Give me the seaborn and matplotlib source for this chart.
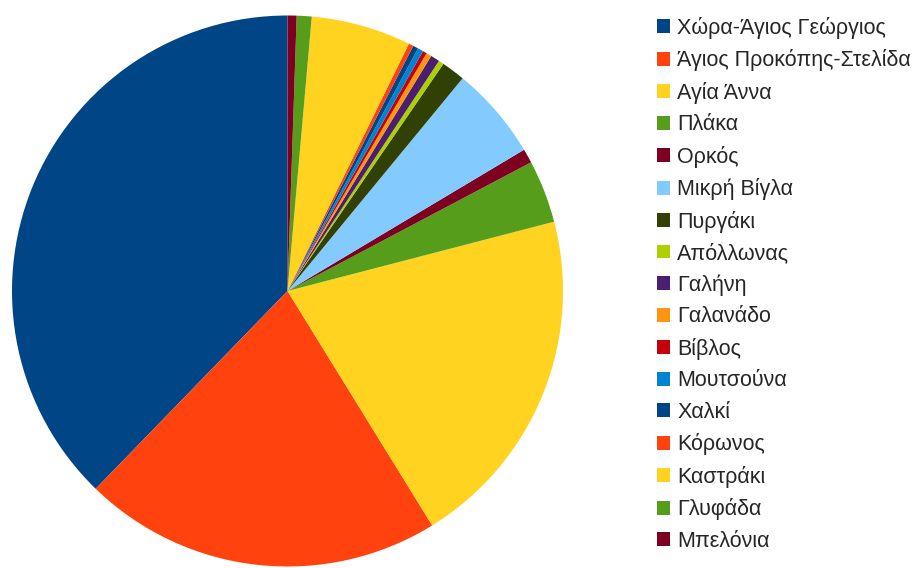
import matplotlib
matplotlib.use("Agg")
import matplotlib.pyplot as plt
import seaborn as sns

# villages and their share
villages = [
    "Χώρα-Άγιος Γεώργιος", "Άγιος Προκόπης-Στελίδα", "Αγία Άννα", "Πλάκα",
    "Ορκός", "Μικρή Βίγλα", "Πυργάκι", "Απόλλωνας", "Γαλήνη", "Γαλανάδο",
    "Βίβλος", "Μουτσούνα", "Χαλκί", "Κόρωνος", "Καστράκι", "Γλυφάδα",
    "Μπελόνια",
]
shares = [
    37.75, 21.06, 20.25, 3.69,
    0.83, 5.47, 1.39, 0.31, 0.53, 0.31,
    0.24, 0.33, 0.31, 0.28, 5.86, 0.875,
    0.53,
]

base_colors = ["#004586", "#ff420e", "#ffd320", "#579d1c", "#7e0021", "#83caff",
               "#314004", "#aecf00", "#4b1f6f", "#ff950e", "#c5000b", "#0084d1"]
palette = sns.color_palette(base_colors + base_colors[:5])

sns.set_style("white")
plt.rcParams["font.family"] = ["Liberation Sans", "DejaVu Sans"]

fig = plt.figure(figsize=(9.22, 5.68), dpi=100)
ax = fig.add_axes([12 / 922, 1.5 / 568, 551 / 922, 551 / 568])

wedges, _ = ax.pie(shares, colors=palette, startangle=90, counterclock=True,
                   wedgeprops={"linewidth": 0, "antialiased": True})
ax.set_xlim(-1, 1)
ax.set_ylim(-1, 1)
ax.set_aspect("equal")
ax.axis("off")

fig.legend(wedges, villages, loc="upper left",
           bbox_to_anchor=(657 / 922, 1 - 17 / 568),
           frameon=False, fontsize=15.5, handlelength=0.62, handleheight=0.62,
           handletextpad=0.33, labelspacing=0.485, borderpad=0, borderaxespad=0)

fig.savefig("out.png", dpi=100)
